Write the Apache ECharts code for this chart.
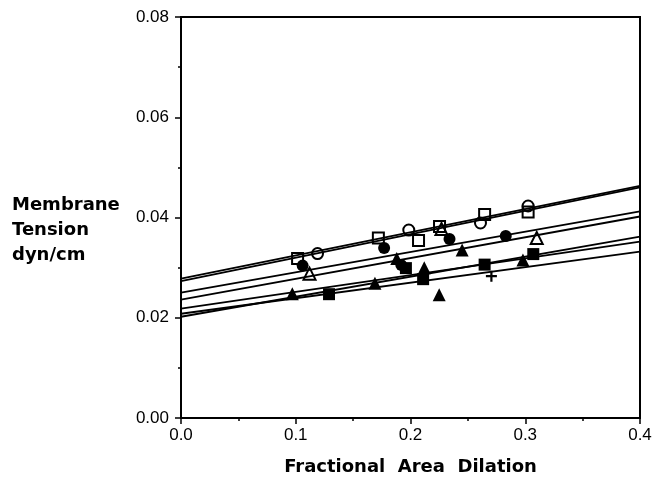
<!DOCTYPE html>
<html>
<head>
<meta charset="utf-8">
<script src="https://cdn.jsdelivr.net/npm/echarts@6/dist/echarts.min.js"></script>
<style>html,body{margin:0;padding:0;background:#fff}#c{width:655px;height:487px}</style>
</head>
<body>
<div id="c"></div>
<script>
// Tick labels
const xTickLabels = ['0.0', '0.1', '0.2', '0.3', '0.4'];
const yTickLabels = ['0.00', '0.02', '0.04', '0.06', '0.08'];
const yTitle = 'Membrane\nTension\ndyn/cm';
const xTitle = 'Fractional  Area  Dilation';

// Data points [fractional area dilation, membrane tension]
const openCircle = [[0.119, 0.0328], [0.1985, 0.0375], [0.261, 0.0389], [0.3025, 0.0423]];
const openSquare = [[0.1016, 0.0318], [0.172, 0.0359], [0.207, 0.0354], [0.2253, 0.0382], [0.2646, 0.0406], [0.3025, 0.0411]];
const openTriangle = [[0.112, 0.0288], [0.227, 0.0377], [0.310, 0.0359]];
const filledCircle = [[0.106, 0.0304], [0.177, 0.0339], [0.192, 0.0305], [0.234, 0.0357], [0.283, 0.0363]];
const filledTriangle = [[0.097, 0.0248], [0.169, 0.0269], [0.188, 0.0318], [0.212, 0.0300], [0.225, 0.0246], [0.245, 0.0335], [0.298, 0.0315]];
const filledSquare = [[0.129, 0.0247], [0.196, 0.0299], [0.211, 0.0277], [0.2646, 0.0306], [0.307, 0.0327]];
const plusPoints = [[0.2705, 0.0283]];

// Regression lines: value at x = 0 and at x = 0.4
const lineX = [0, 0.4];
const lineStarts = [0.0278, 0.0273, 0.0250, 0.0236, 0.0218, 0.0202, 0.0208];
const lineEnds = [0.0463, 0.0460, 0.0412, 0.0402, 0.0352, 0.0362, 0.0332];

const chart = echarts.init(document.getElementById('c'), null, {renderer: 'canvas'});

const lineSeries = lineStarts.map((s, i) => ({
  type: 'line',
  data: [[lineX[0], s], [lineX[1], lineEnds[i]]],
  showSymbol: false,
  symbol: 'none',
  lineStyle: {color: '#000', width: 1.8, opacity: 1},
  z: 2,
  silent: true
}));

const plusPath = 'path://M4,0H6V4H10V6H6V10H4V6H0V4H4Z';

function openSeries(data, symbol, size) {
  return {type: 'scatter', data, symbol, symbolSize: size,
    itemStyle: {color: 'rgba(255,255,255,0)', borderColor: '#000', borderWidth: 2, opacity: 1}, z: 3};
}
function filledSeries(data, symbol, size) {
  return {type: 'scatter', data, symbol, symbolSize: size,
    itemStyle: {color: '#000', borderColor: '#000', borderWidth: 0, opacity: 1}, z: 3};
}

const option = {
  backgroundColor: '#fff',
  animation: false,
  grid: {left: 181, right: 15, top: 17, bottom: 69, show: true, borderColor: '#000', borderWidth: 2, backgroundColor: 'transparent'},
  graphic: [{
    type: 'text', left: 12, top: 193,
    style: {text: yTitle, font: 'bold 18px "DejaVu Sans"', fill: '#000', lineHeight: 25}
  }],
  xAxis: {
    type: 'value', min: 0, max: 0.4, interval: 0.1,
    name: xTitle,
    nameLocation: 'middle', nameGap: 40,
    nameTextStyle: {fontFamily: 'DejaVu Sans', fontWeight: 'bold', fontSize: 18, color: '#000'},
    axisLine: {show: true, lineStyle: {color: '#000', width: 2}},
    axisTick: {show: true, inside: false, length: 6, lineStyle: {color: '#000', width: 1.5}},
    minorTick: {show: true, splitNumber: 2, length: 3, lineStyle: {color: '#000', width: 1.5}},
    splitLine: {show: false},
    axisLabel: {margin: 9, fontFamily: 'Liberation Sans', fontSize: 17, color: '#000',
      formatter: (v) => xTickLabels[Math.round(v / 0.1)]}
  },
  yAxis: {
    type: 'value', min: 0, max: 0.08, interval: 0.02,
    axisLine: {show: true, lineStyle: {color: '#000', width: 2}},
    axisTick: {show: true, inside: false, length: 6, lineStyle: {color: '#000', width: 1.5}},
    minorTick: {show: true, splitNumber: 2, length: 3, lineStyle: {color: '#000', width: 1.5}},
    splitLine: {show: false},
    axisLabel: {margin: 12, fontFamily: 'Liberation Sans', fontSize: 17, color: '#000',
      formatter: (v) => yTickLabels[Math.round(v / 0.02)]}
  },
  series: [
    ...lineSeries,
    openSeries(openCircle, 'circle', 11),
    openSeries(openSquare, 'rect', 11),
    openSeries(openTriangle, 'triangle', 12),
    filledSeries(filledCircle, 'circle', 12),
    filledSeries(filledTriangle, 'triangle', 13),
    filledSeries(filledSquare, 'rect', 12),
    filledSeries(plusPoints, plusPath, 11)
  ]
};
chart.setOption(option);
</script>
</body>
</html>
